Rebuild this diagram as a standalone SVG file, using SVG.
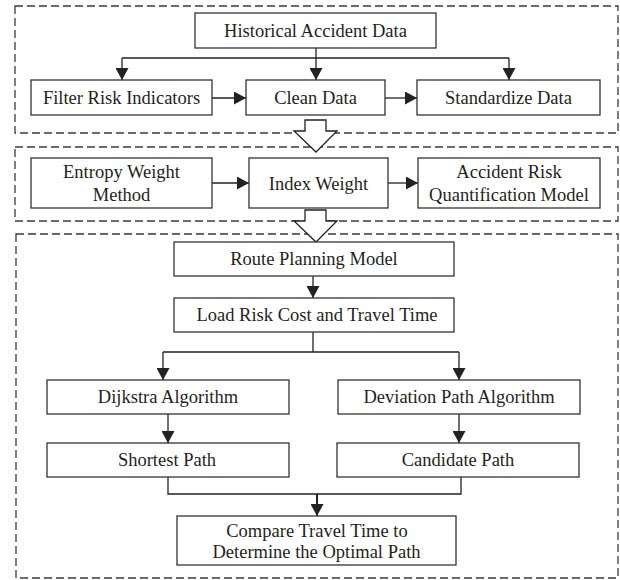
<svg xmlns="http://www.w3.org/2000/svg" width="620" height="580" viewBox="0 0 620 580">
<style>
.sec{fill:none;stroke:#3a3a3a;stroke-width:1.3;stroke-dasharray:8 4}
.box{fill:#fff;stroke:#333;stroke-width:1.3}
.t{font-family:"Liberation Serif","Times New Roman",serif;font-size:18.5px;fill:#231f20;text-anchor:middle}
.ln{fill:none;stroke:#222;stroke-width:1.3}
.big{fill:#fff;stroke:#222;stroke-width:1.3;stroke-linejoin:miter}
</style>
<defs>
<marker id="ah" markerUnits="userSpaceOnUse" markerWidth="13" markerHeight="13" refX="12" refY="6.5" orient="auto">
<path d="M0,0 L12,6.5 L0,13 Z" fill="#222"/>
</marker>
</defs>
<g id="sections">
<rect class="sec" x="15" y="6" width="603" height="127"/>
<rect class="sec" x="15" y="147" width="603" height="74"/>
<rect class="sec" x="16" y="234" width="602" height="344"/>
</g>
<g id="connectors">
<path class="ln" d="M316,48 V58 M122,58 H509"/>
<path class="ln" d="M122,58 V80" marker-end="url(#ah)"/>
<path class="ln" d="M316,58 V80" marker-end="url(#ah)"/>
<path class="ln" d="M509,58 V80" marker-end="url(#ah)"/>
<path class="ln" d="M212,98 H246" marker-end="url(#ah)"/>
<path class="ln" d="M385,98 H417" marker-end="url(#ah)"/>
<path class="ln" d="M212,183 H249" marker-end="url(#ah)"/>
<path class="ln" d="M388,183 H418" marker-end="url(#ah)"/>
<path class="big" d="M305,120 H326 V131 H337 L316,152 L294,131 H305 Z"/>
<path class="big" d="M305,210 H326 V221 H337 L316,242 L294,221 H305 Z"/>
<path class="ln" d="M313,276 V298" marker-end="url(#ah)"/>
<path class="ln" d="M313,332 V352 M163,352 H459"/>
<path class="ln" d="M163,352 V380" marker-end="url(#ah)"/>
<path class="ln" d="M459,352 V380" marker-end="url(#ah)"/>
<path class="ln" d="M168,414 V443" marker-end="url(#ah)"/>
<path class="ln" d="M459,414 V443" marker-end="url(#ah)"/>
<path class="ln" d="M168,477 V494 H461 V477"/>
<path class="ln" d="M317,494 V516" marker-end="url(#ah)" style="stroke-width:2"/>
</g>
<g id="historical"><rect class="box" x="195" y="13" width="241" height="35"/><text class="t" x="315.5" y="37">Historical Accident Data</text></g>
<g id="filter"><rect class="box" x="31" y="80" width="181" height="35"/><text class="t" x="121.5" y="104">Filter Risk Indicators</text></g>
<g id="clean"><rect class="box" x="246" y="80" width="139" height="35"/><text class="t" x="315.5" y="104">Clean Data</text></g>
<g id="standardize"><rect class="box" x="417" y="80" width="183" height="35"/><text class="t" x="508.5" y="104">Standardize Data</text></g>
<g id="entropy"><rect class="box" x="31" y="158" width="181" height="50"/><text class="t" x="121.5" y="178">Entropy Weight</text><text class="t" x="121.5" y="201">Method</text></g>
<g id="index"><rect class="box" x="249" y="158" width="139" height="50"/><text class="t" x="318.5" y="190">Index Weight</text></g>
<g id="arq"><rect class="box" x="418" y="158" width="182" height="50"/><text class="t" x="509" y="178">Accident Risk</text><text class="t" x="509" y="201">Quantification Model</text></g>
<g id="route"><rect class="box" x="174" y="242" width="280" height="34"/><text class="t" x="314" y="265">Route Planning Model</text></g>
<g id="load"><rect class="box" x="174" y="298" width="280" height="34"/><text class="t" x="317" y="321">Load Risk Cost and Travel Time</text></g>
<g id="dijkstra"><rect class="box" x="47" y="380" width="242" height="34"/><text class="t" x="168" y="403">Dijkstra Algorithm</text></g>
<g id="deviation"><rect class="box" x="338" y="380" width="242" height="34"/><text class="t" x="459" y="403">Deviation Path Algorithm</text></g>
<g id="shortest"><rect class="box" x="47" y="443" width="242" height="34"/><text class="t" x="167" y="466">Shortest Path</text></g>
<g id="candidate"><rect class="box" x="337" y="443" width="242" height="34"/><text class="t" x="458" y="466">Candidate Path</text></g>
<g id="compare"><rect class="box" x="177" y="516" width="279" height="49"/><text class="t" x="317" y="537">Compare Travel Time to</text><text class="t" x="316.5" y="558">Determine the Optimal Path</text></g>
</svg>
